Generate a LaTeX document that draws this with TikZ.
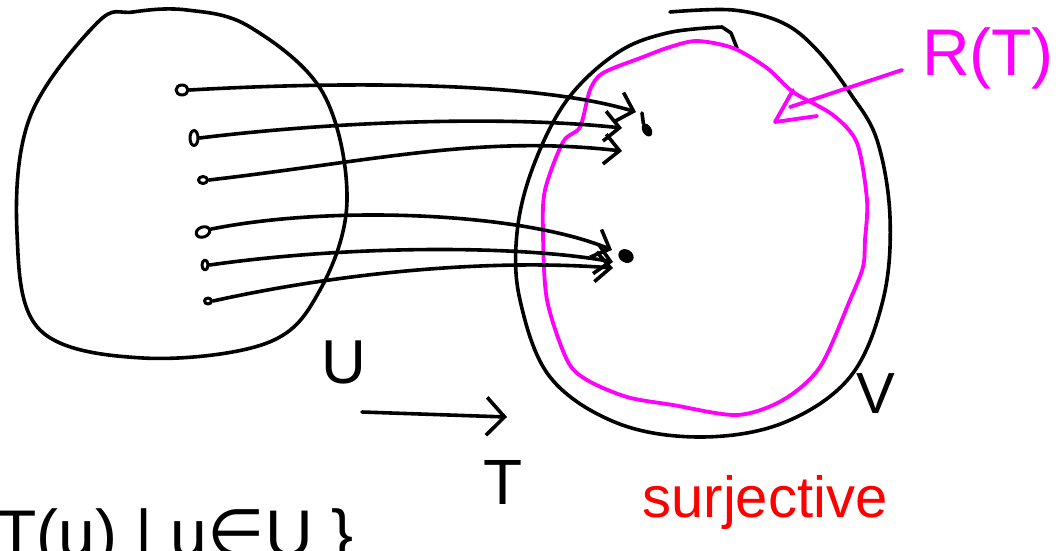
\documentclass[tikz,border=0pt]{standalone}
\usepackage{fontspec}
\setmainfont{Liberation Sans}
\newfontfamily\symfont{DejaVu Sans}
\usetikzlibrary{arrows.meta,shapes.geometric}
\definecolor{mag}{RGB}{255,0,255}
\definecolor{redink}{RGB}{255,0,0}
\begin{document}
\begin{tikzpicture}[x=1pt,y=-1pt,line cap=round,line join=round,
  ink/.style={line width=3.6pt,draw=black},
  pen/.style={line width=3.8pt,draw=mag},
  srcdot/.style={ellipse,draw=black,line width=3pt,inner sep=0pt},
  tgtdot/.style={ellipse,fill=black,inner sep=0pt},
  map/.style={ink,-{Straight Barb[length=15pt,width=30pt]}},
  lbl/.style={inner sep=0pt,font=\fontsize{#1}{#1}\selectfont}]
\fill[white] (0,0) rectangle (1058,550);
\useasboundingbox (0,0) rectangle (1058,550);

% left set U
\draw[ink] plot[smooth cycle,tension=0.6] coordinates{
 (133,12) (187,10) (250,27) (323,93) (347,200) (320,290) (267,343)
 (143,358) (40,330) (17,233) (30,117) (97,23)};

% right set V (open stroke)
\draw[ink] plot[smooth,tension=0.6] coordinates{
 (670,12) (733,10) (783,23) (817,50) (850,93) (877,140) (890,217) (883,300)
 (850,377) (783,423) (700,437) (617,423) (550,377) (520,300) (517,233)
 (533,167) (567,100) (617,53) (667,33) (722,27)} -- (731,33) -- (737,48);

% R(T) in magenta
\draw[pen] plot[smooth cycle,tension=0.5] coordinates{
 (603,73) (643,57) (670,47) (697,41) (733,48) (767,68) (793,92) (833,115)
 (857,143) (867,200) (865,240) (863,267) (850,300) (820,367) (783,400)
 (737,415) (673,405) (627,397) (587,380) (567,360) (547,300) (543,233)
 (545,190) (563,142) (580,127) (590,90)};

% source points
\node[srcdot,minimum width=12pt,minimum height=10pt] (s1) at (182,90) {};
\node[srcdot,minimum width=8pt,minimum height=15pt] (s2) at (194,138) {};
\node[srcdot,minimum width=9pt,minimum height=7pt] (s3) at (203,180) {};
\node[srcdot,minimum width=14pt,minimum height=10pt,rotate=20] (s4) at (203,232) {};
\node[srcdot,minimum width=6pt,minimum height=10pt] (s5) at (205,265) {};
\node[srcdot,minimum width=7pt,minimum height=6pt] (s6) at (208,301) {};

% targets
\node[tgtdot,minimum width=9pt,minimum height=14pt,rotate=30] (t1) at (647,130) {};
\node[tgtdot,minimum width=16pt,minimum height=13pt,rotate=-30] (t2) at (626,256) {};
\coordinate (e1) at (636,112);
\coordinate (e2) at (622,128);
\coordinate (e3) at (622,151);
\coordinate (e4) at (612,250);
\coordinate (e5) at (613,262);
\coordinate (e6) at (613,268);

\draw[map] (s1.east) .. controls (330,82) and (530,80) .. (e1);
\draw[map] (s2.east) .. controls (330,122) and (500,115) .. (e2);
\draw[map] (s3.east) .. controls (380,160) and (480,135) .. (e3);
\draw[map] (s4.east) .. controls (330,205) and (520,212) .. (e4);
\draw[map] (s5.east) .. controls (350,245) and (520,245) .. (e5);
\draw[map] (s6.east) .. controls (330,275) and (480,258) .. (e6);
\draw[ink] (t1.north) -- (642,113);

% labels
\node[lbl=62] (U) at (344,362) {U};
\node[lbl=58] (V) at (876,394) {V};
\node[lbl=64] (T) at (503,482) {T};
\coordinate (a0) at (362,412);
\coordinate (a1) at (507,417);
\draw[ink,-{Straight Barb[length=18pt,width=38pt]}] (a0) -- (a1);

\node[lbl=66,text=mag] (R) at (988,58) {R(T)};
\coordinate (p0) at (902,70);
\coordinate (p1) at (790,107);
\draw[pen] (p0) -- (p1);
\draw[pen] (793,90) -- (775,122) -- (817,116);

\node[lbl=58,text=redink] (S) at (765,502) {surjective};

\node[lbl=66,anchor=base west] (F) at (-4,556) {T(u) | u{\symfont ∈}U \}};
\end{tikzpicture}
\end{document}
